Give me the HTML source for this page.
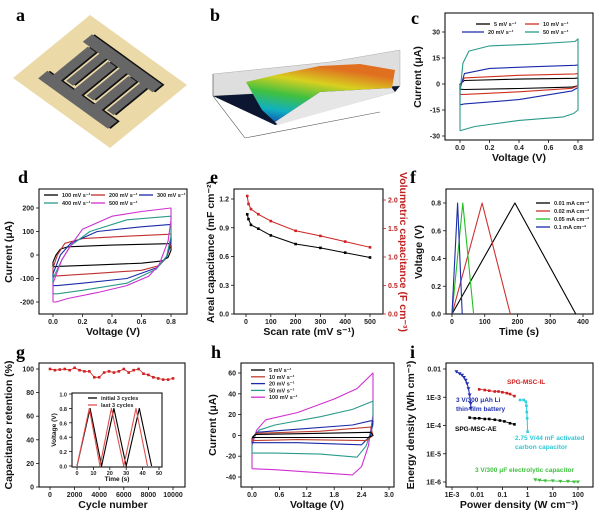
<!DOCTYPE html>
<html><head><meta charset="utf-8"><style>
html,body{margin:0;padding:0;background:#fff;}
svg{display:block;font-family:"Liberation Sans",sans-serif;}
.tk{font-size:7px;font-weight:bold;fill:#222;}
.tks{font-size:5.5px;font-weight:bold;fill:#222;}
.al{font-size:10.5px;font-weight:bold;fill:#111;}
.lg{font-size:5.5px;font-weight:bold;fill:#222;}
.pl{font-family:"Liberation Serif",serif;font-size:18px;font-weight:bold;fill:#000;}
</style></head><body>
<svg id="fig" width="600" height="515" viewBox="0 0 600 515" xmlns="http://www.w3.org/2000/svg">
<defs>
<linearGradient id="surf" x1="0" y1="1" x2="0.4" y2="0">
<stop offset="0" stop-color="#1040b0"/><stop offset="0.25" stop-color="#10b0c0"/><stop offset="0.5" stop-color="#40c040"/><stop offset="0.75" stop-color="#d8d020"/><stop offset="1" stop-color="#e07020"/></linearGradient>
</defs>
<!-- panel a -->
<text class="pl" x="16" y="21">a</text>
<g transform="matrix(0.77,-0.63,0.97,0.70,13,78)">
<rect x="0" y="0" width="100" height="100" fill="#ecd9a8"/>
<g fill="#111" transform="translate(1.5,1.5)">
<path d="M15 14 H27 V20 H72 V28 H27 V41 H72 V49 H27 V62 H72 V70 H27 V86 H15 Z"/>
<path d="M85 14 H73 V31 H30 V38 H73 V52 H30 V59 H73 V73 H30 V80 H73 V86 H85 Z"/>
</g>
<g fill="#666">
<path d="M15 14 H27 V20 H72 V28 H27 V41 H72 V49 H27 V62 H72 V70 H27 V86 H15 Z"/>
<path d="M85 14 H73 V31 H30 V38 H73 V52 H30 V59 H73 V73 H30 V80 H73 V86 H85 Z"/>
</g>
</g>
<!-- panel b -->
<text class="pl" x="210" y="21">b</text>
<g>
<polygon points="213,74 330,62 400,50 400,86 213,96" fill="#dedede" stroke="#aaa" stroke-width="0.5"/>
<polygon points="213,96 400,86 395,92 275,125" fill="#0c1630"/>
<polygon points="246,82 280,74 320,66 360,64 395,70 392,88 320,92 275,122 262,110" fill="url(#surf)"/>
<polygon points="275,122 320,92 392,88 395,92 278,125" fill="#e6e6e6"/>
<line x1="213" y1="96" x2="245" y2="138" stroke="#555" stroke-width="0.6"/>
<line x1="245" y1="138" x2="380" y2="112" stroke="#555" stroke-width="0.6"/>
<line x1="213" y1="74" x2="213" y2="96" stroke="#555" stroke-width="0.6"/>
</g>
<g id="plots"></g>
</svg>
<script>
// ===== data =====
const cRates=["5 mV s⁻¹","10 mV s⁻¹","20 mV s⁻¹","50 mV s⁻¹"];
const cV5=[0,0,0.03,0.4,0.78,0.8,0.8,0.76,0.4,0.03,0];
const cI5=[-3,0,2,2.8,3.3,3.5,-1,-1.8,-2.6,-3.2,-3];
const cV10=[0,0,0.03,0.4,0.78,0.8,0.8,0.76,0.4,0.03,0];
const cI10=[-6,-1,3.5,5,5.8,6,-1,-2.5,-4.5,-6,-6];
const cV20=[0,0,0.03,0.2,0.5,0.78,0.8,0.8,0.76,0.4,0.03,0];
const cI20=[-12,-3,6,9,10,10.8,11,-2,-4,-9,-11.5,-12];
const cV50=[0,0,0.02,0.06,0.2,0.5,0.78,0.8,0.8,0.77,0.7,0.4,0.1,0.02,0];
const cI50=[-27,-5,12,19,22,23,24.5,26,-15,-17,-19,-21,-24.5,-26.5,-27];
const dRates=["100 mV s⁻¹","200 mV s⁻¹","300 mV s⁻¹","400 mV s⁻¹","500 mV s⁻¹"];
const dV100=[0,0,0.02,0.05,0.1,0.4,0.78,0.8,0.8,0.78,0.74,0.6,0.3,0.05,0];
const dI100=[-50,-30,0,25,35,42,48,50,20,-10,-25,-35,-42,-48,-50];
const dV200=[0,0,0.03,0.08,0.2,0.5,0.78,0.8,0.8,0.77,0.72,0.6,0.3,0.05,0];
const dI200=[-90,-55,0,50,70,80,88,90,45,-10,-45,-65,-78,-88,-90];
const dV300=[0,0,0.05,0.12,0.3,0.6,0.8,0.8,0.77,0.7,0.5,0.2,0.03,0];
const dI300=[-130,-80,0,50,100,120,130,60,-10,-55,-100,-120,-130,-130];
const dV400=[0,0,0.06,0.12,0.25,0.5,0.8,0.8,0.77,0.7,0.5,0.2,0.03,0];
const dI400=[-165,-100,-20,40,100,150,165,80,-5,-60,-120,-150,-165,-165];
const dV500=[0,0,0.06,0.12,0.2,0.4,0.6,0.8,0.8,0.78,0.72,0.65,0.5,0.3,0.1,0.02,0];
const dI500=[-200,-120,-20,40,110,165,185,200,150,60,-40,-90,-130,-160,-185,-200,-200];
const eRate=[5,10,20,50,100,200,300,400,500];
const eAreal=[1.04,0.99,0.93,0.89,0.82,0.73,0.69,0.64,0.59];
const eVol=[2.07,1.93,1.84,1.75,1.63,1.46,1.37,1.27,1.17];
const fLabels=["0.01 mA cm⁻²","0.02 mA cm⁻²","0.05 mA cm⁻²","0.1 mA cm⁻²"];
const fT1=[0,192,378], fT2=[0,92,178], fT5=[0,33,66], fT10=[0,17,31];
const fVolt=[0,0.8,0];
const gCycles=[0,400,800,1200,1600,2000,2400,2800,3200,3600,4000,4400,4800,5200,5600,6000,6400,6800,7200,7600,8000,8400,8800,9200,9600,10000];
const gRet=[100,99,99.5,100,99,101,99,98,98,93,93,97,98,97,98,100,97,99,100,96,95,93,92,91,91,92];
const gInitT=[0,8,15,22.5,30,38,45.5];
const gLastT=[0,7.5,14,21,28.5,36,43];
const gInsV=[0,0.8,0,0.8,0,0.8,0];
const hRates=["5 mV s⁻¹","10 mV s⁻¹","20 mV s⁻¹","50 mV s⁻¹","100 mV s⁻¹"];
const hV5=[0,0.05,0.1,1.5,2.6,2.65,2.55,1.2,0];
const hI5=[-2,0,1,2,3,0,-2,-2,-2];
const hV10=[0,0.05,0.1,1.5,2.6,2.65,2.5,1,0];
const hI10=[-5,0,2,4,8,0,-5,-4,-5];
const hV20=[0,0,0.1,1,2.2,2.6,2.65,2.6,2.4,1,0];
const hI20=[-7,-3,3,6,10,14,14,0,-9,-7,-7];
const hV50=[0,0,0.15,0.5,1.5,2.2,2.65,2.65,2.5,2.3,1.5,0.5,0];
const hI50=[-17,-5,5,10,18,25,33,10,-10,-21,-18,-17,-17];
const hV100=[0,0,0.1,0.3,1,1.8,2.3,2.65,2.65,2.55,2.4,2.2,1.5,0.5,0];
const hI100=[-32,-10,5,15,22,35,45,60,20,-10,-30,-38,-36,-33,-32];
const iBatP=[0.0015,0.002,0.0025,0.003,0.0035,0.004,0.0045,0.005,0.0055,0.0055];
const iBatE=[0.008,0.0068,0.006,0.005,0.004,0.003,0.002,0.0012,0.0006,0.0004];
const iILP=[0.012,0.02,0.03,0.05,0.07,0.1,0.15,0.2,0.3];
const iILE=[0.0019,0.0018,0.0017,0.0016,0.0016,0.0015,0.0014,0.0013,0.0011];
const iAEP=[0.005,0.008,0.012,0.02,0.03,0.05,0.08,0.12,0.2,0.3];
const iAEE=[0.00019,0.00018,0.00018,0.00017,0.00017,0.00016,0.00015,0.00014,0.00012,0.00011];
const iACP=[0.5,0.7,0.85,0.9,0.93,0.96,1.0];
const iACE=[0.0008,0.0008,0.0007,0.0005,0.0003,0.00018,0.00006];
const iElP=[2,3,5,10,20,40,70,100];
const iElE=[1.2e-6,1.15e-6,1.1e-6,1.1e-6,1.05e-6,1.05e-6,1e-6,1e-6];

// ===== helpers =====
const NS="http://www.w3.org/2000/svg";
const root=document.getElementById("plots");
function mk(tag,attrs,name,parent){
  const el=document.createElementNS(NS,tag);
  for(const k in attrs) el.setAttribute(k,attrs[k]);
  
  
  (parent||root).appendChild(el);
  return el;
}
function txt(x,y,s,cls,name,extra){
  const t=mk("text",Object.assign({x:x,y:y,class:cls},extra||{}),name);
  t.textContent=s;return t;
}
function lin(d0,d1,r0,r1){return v=>r0+(v-d0)*(r1-r0)/(d1-d0);}
function lg(d0,d1,r0,r1){return v=>r0+(Math.log10(v)-Math.log10(d0))*(r1-r0)/(Math.log10(d1)-Math.log10(d0));}
function frame(x0,y0,x1,y1,name){mk("rect",{x:x0,y:y0,width:x1-x0,height:y1-y0,fill:"none",stroke:"#111","stroke-width":1.1},name);}
function xt(xs,y1,vals,labs,name,cls){vals.forEach((v,i)=>{mk("line",{x1:xs(v),x2:xs(v),y1:y1,y2:y1+3,stroke:"#111","stroke-width":0.8},name+"-tick");txt(xs(v),y1+(cls?8:10),labs[i],cls||"tk",name+"-label",{"text-anchor":"middle"});});}
function yt(ys,x0,vals,labs,name,right,col,cls){vals.forEach((v,i)=>{const d=right?3:-3;mk("line",{x1:x0,x2:x0+d,y1:ys(v),y2:ys(v),stroke:col||"#111","stroke-width":0.8},name+"-tick");txt(x0+(right?5:-5),ys(v)+2.5,labs[i],cls||"tk",name+"-label",{"text-anchor":right?"start":"end",style:col?"fill:"+col:""});});}
function line(X,Y,xs,ys,col,name,w,close){
  const d=X.map((v,i)=>(i?"L":"M")+xs(v).toFixed(1)+" "+ys(Y[i]).toFixed(1)).join(" ")+(close?" Z":"");
  return mk("path",{d:d,fill:"none",stroke:col,"stroke-width":w||1.1,"stroke-linejoin":"round"},name);
}
function marks(X,Y,xs,ys,col,name,shape){X.forEach((v,i)=>{const x=xs(v),y=ys(Y[i]);
  if(shape==="tri")mk("path",{d:`M${x-2} ${y-1.5}L${x+2} ${y-1.5}L${x} ${y+1.8}Z`,fill:col},name);
  else mk("rect",{x:x-1.3,y:y-1.3,width:2.6,height:2.6,fill:col},name);});}
function ylab(x,y,s,name,rot,col){return txt(x,y,s,"al",name,{"text-anchor":"middle",transform:`rotate(${rot||-90} ${x} ${y})`,style:col?"fill:"+col:""});}
function legendItem(x,y,len,col,s,name){mk("line",{x1:x,x2:x+len,y1:y,y2:y,stroke:col,"stroke-width":1.3},name+"-swatch");txt(x+len+4,y+2,s,"lg",name);}

// ===== panel c =====
txt(411,24,"c","pl","panel-label-c");
{const xs=lin(0,0.8,460,578), ys=lin(-30,30,136,32);
frame(445,13,593,140,"plot-frame-c");
xt(xs,140,[0,0.2,0.4,0.6,0.8],["0.0","0.2","0.4","0.6","0.8"],"x-axis-c");
yt(ys,445,[-30,-15,0,15,30],["-30","-15","0","15","30"],"y-axis-c");
line(cV5,cI5,xs,ys,"#000","cv-5mV-c");line(cV10,cI10,xs,ys,"#d03020","cv-10mV-c");
line(cV20,cI20,xs,ys,"#1a2aa8","cv-20mV-c");line(cV50,cI50,xs,ys,"#2a9a8a","cv-50mV-c");
legendItem(476,24,14,"#000",cRates[0],"legend-c-5");legendItem(525,24,14,"#d03020",cRates[1],"legend-c-10");
legendItem(462,32,22,"#1a2aa8",cRates[2],"legend-c-20");legendItem(525,32,14,"#2a9a8a",cRates[3],"legend-c-50");
ylab(421,77,"Current (μA)","y-axis-title-c");txt(519,161,"Voltage (V)","al","x-axis-title-c",{"text-anchor":"middle"});}

// ===== panel d =====
txt(18,183,"d","pl","panel-label-d");
{const xs=lin(0,0.8,53,171), ys=lin(-200,200,302,208);
frame(39,189,187,314,"plot-frame-d");
xt(xs,314,[0,0.2,0.4,0.6,0.8],["0.0","0.2","0.4","0.6","0.8"],"x-axis-d");
yt(ys,39,[-200,-100,0,100,200],["-200","-100","0","100","200"],"y-axis-d");
line(dV100,dI100,xs,ys,"#000","cv-100mV-d");line(dV200,dI200,xs,ys,"#c03030","cv-200mV-d");
line(dV300,dI300,xs,ys,"#1a2aa8","cv-300mV-d");line(dV400,dI400,xs,ys,"#2a9a8a","cv-400mV-d");
line(dV500,dI500,xs,ys,"#d030d0","cv-500mV-d");
legendItem(44,195,14,"#000",dRates[0],"legend-d-100");legendItem(91,195,14,"#c03030",dRates[1],"legend-d-200");
legendItem(139,195,14,"#1a2aa8",dRates[2],"legend-d-300");legendItem(44,203,14,"#2a9a8a",dRates[3],"legend-d-400");
legendItem(91,203,14,"#d030d0",dRates[4],"legend-d-500");
ylab(12,252,"Current (μA)","y-axis-title-d");txt(113,335,"Voltage (V)","al","x-axis-title-d",{"text-anchor":"middle"});}

// ===== panel e =====
txt(210,183,"e","pl","panel-label-e");
{const xs=lin(0,500,246,370), ys=lin(0,1.2,314,199), yr=lin(0,2.0,314,200);
frame(234,189,383,314,"plot-frame-e");
xt(xs,314,[0,100,200,300,400,500],["0","100","200","300","400","500"],"x-axis-e");
yt(ys,234,[0,0.3,0.6,0.9,1.2],["0.0","0.3","0.6","0.9","1.2"],"y-axis-left-e");
yt(yr,383,[0,0.5,1.0,1.5,2.0],["0.0","0.5","1.0","1.5","2.0"],"y-axis-right-e",true,"#c02020");
line(eRate,eAreal,xs,ys,"#000","areal-capacitance-line",1);marks(eRate,eAreal,xs,ys,"#000","areal-point");
line(eRate,eVol,xs,yr,"#d02020","volumetric-capacitance-line",1);marks(eRate,eVol,xs,yr,"#d02020","volumetric-point");
ylab(214,252,"Areal capacitance (mF cm⁻²)","y-axis-title-left-e");
ylab(400,252,"Volumetric capacitance (F cm⁻³)","y-axis-title-right-e",90,"#c02020");
txt(309,335,"Scan rate (mV s⁻¹)","al","x-axis-title-e",{"text-anchor":"middle"});}

// ===== panel f =====
txt(410,183,"f","pl","panel-label-f");
{const xs=lin(0,400,452,583), ys=lin(0,0.8,314,203);
frame(446,189,593,314,"plot-frame-f");
xt(xs,314,[0,100,200,300,400],["0","100","200","300","400"],"x-axis-f");
yt(ys,446,[0,0.2,0.4,0.6,0.8],["0.0","0.2","0.4","0.6","0.8"],"y-axis-f");
line(fT1,fVolt,xs,ys,"#000","gcd-0.01");line(fT2,fVolt,xs,ys,"#d03030","gcd-0.02");
line(fT5,fVolt,xs,ys,"#20c020","gcd-0.05");line(fT10,fVolt,xs,ys,"#1a2aa8","gcd-0.1");
legendItem(536,203,14,"#000",fLabels[0],"legend-f-0.01");legendItem(536,211,14,"#d03030",fLabels[1],"legend-f-0.02");
legendItem(536,219,14,"#20c020",fLabels[2],"legend-f-0.05");legendItem(536,227,14,"#1a2aa8",fLabels[3],"legend-f-0.1");
ylab(422,252,"Voltage (V)","y-axis-title-f");txt(519,335,"Time (s)","al","x-axis-title-f",{"text-anchor":"middle"});}

// ===== panel g =====
txt(16,358,"g","pl","panel-label-g");
{const xs=lin(0,10000,50,173), ys=lin(0,100,487,369);
frame(39,363,185,487,"plot-frame-g");
xt(xs,487,[0,2000,4000,6000,8000,10000],["0","2000","4000","6000","8000","10000"],"x-axis-g");
yt(ys,39,[0,20,40,60,80,100],["0","20","40","60","80","100"],"y-axis-g");
line(gCycles,gRet,xs,ys,"#d02020","retention-line",0.8);marks(gCycles,gRet,xs,ys,"#d02020","retention-point");
const ix=lin(0,50,77,159), iy=lin(0,1,466,394);
mk("rect",{x:72,y:393,width:90,height:74,fill:"#fff"},"inset-background");
frame(72,393,162,467,"inset-frame-g");
xt(ix,467,[0,10,20,30,40,50],["0","10","20","30","40","50"],"inset-x-axis","tks");
yt(iy,72,[0,0.2,0.4,0.6,0.8,1.0],["0.0","0.2","0.4","0.6","0.8","1.0"],"inset-y-axis",false,null,"tks");
line(gInitT,gInsV,ix,iy,"#000","initial-cycles-line");line(gLastT,gInsV,ix,iy,"#e05050","last-cycles-line");
legendItem(88,398,9,"#000","initial 3 cycles","legend-initial");legendItem(88,405,9,"#e05050","last 3 cycles","legend-last");
const it=ylab(56,430,"Voltage (V)","inset-y-title");it.style.fontSize="6.5px";
const tt=txt(117,481,"Time (s)","al","inset-x-title",{"text-anchor":"middle"});tt.style.fontSize="6.5px";
ylab(12,425,"Capacitance retention (%)","y-axis-title-g");txt(113,508,"Cycle number","al","x-axis-title-g",{"text-anchor":"middle"});}

// ===== panel h =====
txt(211,358,"h","pl","panel-label-h");
{const xs=lin(0,3,252,389), ys=lin(-40,60,477,373);
frame(241,363,394,487,"plot-frame-h");
xt(xs,487,[0,0.6,1.2,1.8,2.4,3.0],["0.0","0.6","1.2","1.8","2.4","3.0"],"x-axis-h");
yt(ys,241,[-40,-20,0,20,40,60],["-40","-20","0","20","40","60"],"y-axis-h");
line(hV100,hI100,xs,ys,"#d030d0","cv-100mV-h");line(hV50,hI50,xs,ys,"#2a9a8a","cv-50mV-h");
line(hV20,hI20,xs,ys,"#1a2aa8","cv-20mV-h");line(hV10,hI10,xs,ys,"#c04030","cv-10mV-h");
line(hV5,hI5,xs,ys,"#000","cv-5mV-h");
const hc=["#000","#c04030","#1a2aa8","#2a9a8a","#d030d0"];
hRates.forEach((r,i)=>legendItem(251,370+i*6.8,14,hc[i],r,"legend-h-"+i));
ylab(216,425,"Current (μA)","y-axis-title-h");txt(317,508,"Voltage (V)","al","x-axis-title-h",{"text-anchor":"middle"});}

// ===== panel i =====
txt(410,358,"i","pl","panel-label-i");
{const xs=lg(1e-3,100,452,578), ys=lg(1e-6,0.01,482,369);
frame(446,363,593,487,"plot-frame-i");
xt(xs,487,[1e-3,0.01,0.1,1,10,100],["1E-3","0.01","0.1","1","10","100"],"x-axis-i");
yt(ys,446,[1e-6,1e-5,1e-4,1e-3,0.01],["1E-6","1E-5","1E-4","1E-3","0.01"],"y-axis-i");
line(iBatP,iBatE,xs,ys,"#2030b0","battery-line");marks(iBatP,iBatE,xs,ys,"#2030b0","battery-point","tri");
line(iILP,iILE,xs,ys,"#d02020","spg-msc-il-line",0.8);marks(iILP,iILE,xs,ys,"#d02020","spg-msc-il-point");
line(iAEP,iAEE,xs,ys,"#000","spg-msc-ae-line",0.8);marks(iAEP,iAEE,xs,ys,"#000","spg-msc-ae-point");
line(iACP,iACE,xs,ys,"#30d0e0","activated-carbon-line");marks(iACP,iACE,xs,ys,"#30d0e0","activated-carbon-point");
line(iElP,iElE,xs,ys,"#40c040","electrolytic-line",0.8);marks(iElP,iElE,xs,ys,"#40c040","electrolytic-point","tri");
const an=[[507,384,"SPG-MSC-IL","#d02020"],[456,402,"3 V/300 μAh Li","#2030b0"],[456,411,"thin-film battery","#2030b0"],[455,431,"SPG-MSC-AE","#000"],[515,440,"2.75 V/44 mF activated","#30c8d8"],[515,449,"carbon capacitor","#30c8d8"],[475,472,"3 V/300 μF electrolytic capacitor","#40c040"]];
an.forEach(a=>{const t=txt(a[0],a[1],a[2],"lg","annotation-i");t.style.fill=a[3];t.style.fontSize="6.5px";});
ylab(414,425,"Energy density (Wh cm⁻³)","y-axis-title-i");txt(519,508,"Power density (W cm⁻³)","al","x-axis-title-i",{"text-anchor":"middle"});}
</script>
</body></html>
